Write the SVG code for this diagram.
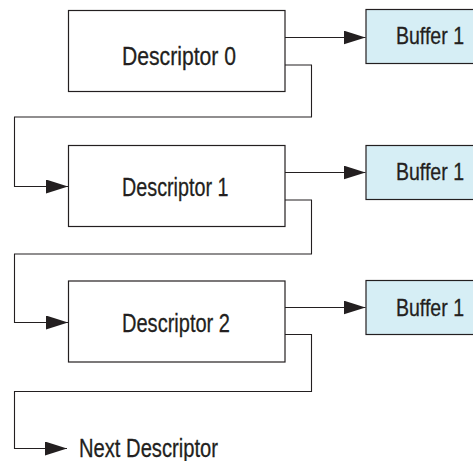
<svg xmlns="http://www.w3.org/2000/svg" width="473" height="461" viewBox="0 0 473 461">
<style>
.box{fill:#ffffff;stroke:#231f20;stroke-width:1.2}
.buf{fill:#d6eef5;stroke:#231f20;stroke-width:1.2}
.lbl{font-family:"Liberation Sans",Arial,sans-serif;font-size:26.5px;fill:#231f20;stroke:#231f20;stroke-width:0.3}
.sm{font-size:24.5px}
.con{fill:none;stroke:#231f20;stroke-width:1.1}
</style>
<defs>
<marker id="ah" markerWidth="22" markerHeight="14" refX="22" refY="7" orient="auto" markerUnits="userSpaceOnUse">
<path d="M0,0 L22,7 L0,14 Z" fill="#231f20"/>
</marker>
</defs>
<rect x="0" y="0" width="473" height="461" fill="#ffffff"/>
<g id="desc0"><rect class="box" x="68.5" y="10.5" width="216.5" height="81"/><text class="lbl" x="122" y="64.5" textLength="114" lengthAdjust="spacingAndGlyphs">Descriptor 0</text></g>
<g id="desc1"><rect class="box" x="68.5" y="145.5" width="216.5" height="81"/><text class="lbl" x="122" y="195.5" textLength="106.5" lengthAdjust="spacingAndGlyphs">Descriptor 1</text></g>
<g id="desc2"><rect class="box" x="68.5" y="281" width="216.5" height="81"/><text class="lbl" x="122" y="332" textLength="108" lengthAdjust="spacingAndGlyphs">Descriptor 2</text></g>
<g id="buf0"><rect class="buf" x="366" y="9.5" width="120" height="54"/><text class="lbl sm" x="396" y="44" textLength="68" lengthAdjust="spacingAndGlyphs">Buffer 1</text></g>
<g id="buf1"><rect class="buf" x="366" y="145.5" width="120" height="54"/><text class="lbl sm" x="396" y="179.5" textLength="68" lengthAdjust="spacingAndGlyphs">Buffer 1</text></g>
<g id="buf2"><rect class="buf" x="366" y="280.5" width="120" height="54"/><text class="lbl sm" x="396" y="316" textLength="68" lengthAdjust="spacingAndGlyphs">Buffer 1</text></g>
<g id="next"><text class="lbl" x="79" y="456.5" textLength="139" lengthAdjust="spacingAndGlyphs">Next Descriptor</text></g>
<g id="connectors">
<path class="con" d="M285,37.5 H365.5" marker-end="url(#ah)"/>
<path class="con" d="M285,172.5 H365.5" marker-end="url(#ah)"/>
<path class="con" d="M285,307.5 H365.5" marker-end="url(#ah)"/>
<path class="con" d="M285,65 H311.5 V117 H14.5 V186.5 H68" marker-end="url(#ah)"/>
<path class="con" d="M285,200 H311.5 V254 H14.5 V322.5 H68" marker-end="url(#ah)"/>
<path class="con" d="M285,334.5 H311.5 V391.5 H14.5 V448.5 H67" marker-end="url(#ah)"/>
</g>
</svg>
